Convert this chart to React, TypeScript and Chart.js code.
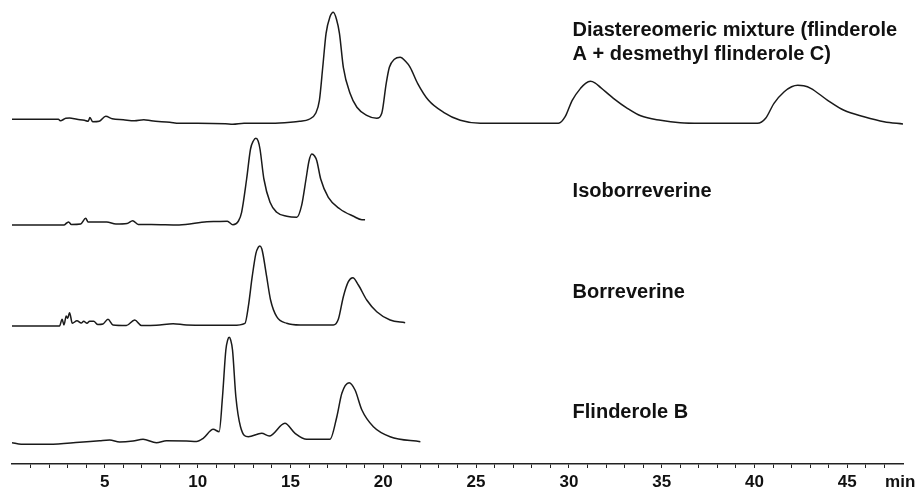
import React, { useEffect, useRef } from "react";
import { Chart, registerables } from "chart.js";

Chart.register(...registerables);

// Retention time (min) and detector signal (relative to each trace's own baseline)
const mixtureTime = [0.0, 2.5, 2.6, 2.9, 3.1, 3.5, 3.9, 4.1, 4.2, 4.35, 4.7, 5.05, 5.4, 6.0, 6.6, 7.1, 7.5, 8.5, 9.0, 10.0, 11.5, 11.9, 12.5, 14.0, 15.0, 15.5, 16.0, 16.36, 16.56, 16.74, 16.92, 17.12, 17.31, 17.48, 17.64, 17.85, 18.21, 18.58, 19.11, 19.65, 19.92, 20.16, 20.33, 20.6, 20.91, 21.2, 21.45, 21.85, 22.44, 23.25, 24.15, 25.23, 29.44, 29.8, 30.18, 30.63, 30.9, 31.16, 31.4, 31.7, 32.4, 33.15, 33.87, 34.94, 36.0, 37.1, 40.16, 40.6, 41.05, 41.6, 42.0, 42.33, 42.65, 43.03, 43.94, 44.82, 45.9, 46.98, 48.0];
const mixtureSignal = [4, 4, 2.5, 5, 5.3, 4, 3, 2, 5.7, 1.5, 2, 7, 4.5, 3.5, 2.5, 3.5, 2.5, 1, 0, 0, -0.5, -1, 0, 0, 1, 2, 4, 10, 23, 56, 90, 106, 111, 104, 90, 56, 30, 16, 8, 5, 10, 40, 56, 64, 66, 62, 56, 40, 23, 11, 3, 0, 0, 6.6, 23, 35, 40, 42, 40.5, 36, 25, 15, 7.5, 3, 0.5, 0, 0, 5, 20, 31.5, 36.5, 38, 37.5, 35, 23, 13, 6.6, 1.6, -0.7];

const isoTime = [0.0, 2.8, 2.95, 3.05, 3.2, 3.7, 3.97, 4.1, 4.5, 5.1, 5.6, 6.2, 6.5, 6.8, 7.5, 9.0, 10.5, 11.0, 11.6, 11.9, 12.2, 12.37, 12.64, 12.85, 13.0, 13.14, 13.26, 13.36, 13.57, 13.9, 14.26, 14.8, 15.34, 15.6, 15.84, 16.0, 16.15, 16.3, 16.42, 16.63, 17.04, 17.67, 18.4, 18.85, 19.02];
const isoSignal = [0, 0, 2, 3, 0.5, 1, 6.7, 3, 3, 3, 1, 1.5, 4.3, 0.5, 0.5, 0, 3.3, 3.5, 3.7, 0.3, 4, 12.7, 46, 76, 84, 86.7, 84, 76, 46, 22.7, 12.7, 8.7, 7.7, 19.3, 46, 64, 71, 69, 64.3, 46, 27.7, 16, 8.7, 5.3, 5.3];

const borTime = [0.0, 2.56, 2.7, 2.8, 2.92, 3.0, 3.1, 3.25, 3.5, 3.73, 3.86, 4.04, 4.18, 4.4, 4.63, 4.9, 5.17, 5.44, 6.16, 6.61, 6.97, 7.78, 8.68, 9.4, 11.9, 12.55, 12.73, 12.94, 13.14, 13.26, 13.36, 13.46, 13.53, 13.72, 13.93, 14.26, 14.8, 15.52, 17.31, 17.58, 17.85, 18.12, 18.36, 18.66, 19.11, 19.65, 20.37, 21.18];
const borSignal = [0, 0, 6.7, 1, 10, 7.7, 13.3, 2.7, 5.3, 3, 4.7, 2.7, 4.7, 4.7, 1.5, 2, 6.7, 1, 0.5, 6, 0.5, 0.7, 2.3, 1, 0.7, 2.7, 19.3, 49.3, 72.7, 78.5, 80, 77, 71, 49.3, 26, 9.3, 2.7, 1, 1, 6.7, 29.3, 44.3, 48.3, 41, 26, 14.3, 6, 3.3];

const flinTime = [0.0, 0.5, 2.0, 3.64, 4.72, 5.26, 5.8, 6.52, 7.06, 7.78, 8.32, 9.4, 9.94, 10.3, 10.84, 11.16, 11.34, 11.52, 11.62, 11.7, 11.78, 11.88, 12.06, 12.31, 12.73, 13.45, 13.86, 14.7, 15.25, 15.88, 17.13, 17.5, 17.77, 18.16, 18.48, 18.85, 19.47, 20.37, 22.0];
const flinSignal = [0.3, -1.3, -1.3, 0.7, 2.3, 3, 1, 2, 3.7, 0.3, 2.3, 2, 1.5, 4.7, 13.7, 11.3, 46.3, 93, 103, 105.7, 103, 93, 46.3, 16.3, 6.3, 9.7, 7, 19.7, 9.7, 3.7, 3.7, 26.3, 49.7, 60.3, 53, 33, 16.3, 6.3, 1.3];

const traceTimes = [mixtureTime, isoTime, borTime, flinTime];
const traceSignals = [mixtureSignal, isoSignal, borSignal, flinSignal];
const traceOffsets = [340.7, 239, 138, 21];

const labelLines = [
  "Diastereomeric mixture (flinderole",
  "A + desmethyl flinderole C)",
  "Isoborreverine",
  "Borreverine",
  "Flinderole B",
];
const labelX = 30.2;
const labelY = [428, 404, 267, 166, 46];

// x-axis tick labels
const tickLabelValues = [5, 10, 15, 20, 25, 30, 35, 40, 45];
const axisUnit = "min";
const axisUnitAt = 47.85;

const xMin = 0;
const xMax = 48;
const yMax = 464;

const FONT = '"Liberation Sans", Arial, Helvetica, sans-serif';

export default function App() {
  const ref = useRef<HTMLCanvasElement | null>(null);

  useEffect(() => {
    if (!ref.current) return;
    const datasets = traceTimes.map((times, i) => ({
      label: labelLines[Math.min(i + 1, labelLines.length - 1)],
      data: times.map((t, j) => ({ x: t, y: traceSignals[i][j] + traceOffsets[i] })),
      borderColor: "#1a1a1a",
      borderWidth: 1.5,
      pointRadius: 0,
      fill: false,
      cubicInterpolationMode: "monotone" as const,
    }));

    const labelPlugin = {
      id: "traceLabels",
      afterDraw(chart: any) {
        const c = chart.ctx;
        const xs = chart.scales.x;
        const ys = chart.scales.y;
        c.save();
        c.fillStyle = "#111";
        c.font = `bold 20px ${FONT}`;
        c.textBaseline = "alphabetic";
        c.textAlign = "left";
        labelLines.forEach((t, i) => {
          c.fillText(t, xs.getPixelForValue(labelX), ys.getPixelForValue(labelY[i]));
        });
        // x tick labels
        c.font = `bold 17px ${FONT}`;
        c.textAlign = "center";
        const baseY = chart.chartArea.bottom + 23;
        tickLabelValues.forEach((v) => {
          c.fillText(String(v), xs.getPixelForValue(v), baseY);
        });
        c.fillText(axisUnit, xs.getPixelForValue(axisUnitAt), baseY);
        c.restore();
      },
    };

    const chart = new Chart(ref.current, {
      type: "line",
      data: { datasets },
      options: {
        animation: false,
        responsive: false,
        maintainAspectRatio: false,
        layout: { padding: { left: 12, right: 17, top: 0, bottom: 21 } },
        plugins: { legend: { display: false }, tooltip: { enabled: false } },
        scales: {
          x: {
            type: "linear",
            min: xMin,
            max: xMax,
            grid: {
              display: true,
              drawOnChartArea: false,
              drawTicks: true,
              tickLength: 4,
              tickWidth: 1,
              tickColor: (ctx: any) =>
                ctx.tick && (ctx.tick.value === xMin || ctx.tick.value === xMax) ? "rgba(0,0,0,0)" : "#222",
            },
            border: { display: true, color: "#222", width: 1.5 },
            ticks: {
              display: false,
              stepSize: 1,
              autoSkip: false,
            },
          },
          y: {
            type: "linear",
            display: false,
            min: 0,
            max: yMax,
          },
        },
      },
      plugins: [labelPlugin],
    });
    return () => chart.destroy();
  }, []);

  return (
    <div style={{ position: "absolute", left: 0, top: 0, width: 920, height: 489, background: "#fff" }}>
      <canvas ref={ref} width={920} height={489} style={{ display: "block", width: 920, height: 489 }} />
    </div>
  );
}
